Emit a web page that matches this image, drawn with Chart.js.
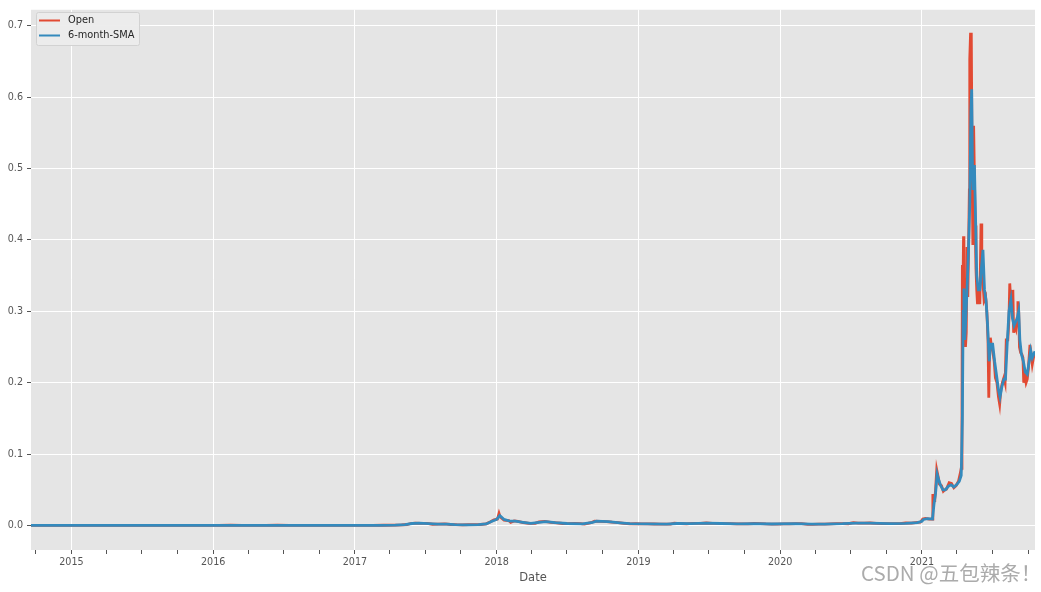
<!DOCTYPE html>
<html>
<head>
<meta charset="utf-8">
<script src="https://cdn.jsdelivr.net/npm/chart.js@4/dist/chart.umd.min.js"></script>
<style>
  body { margin: 0; background: #fff; }
  #wrap { position: relative; width: 1041px; height: 592px; }
  #mark {
    position: absolute; left: 861px; top: 559px;
    font-family: "Noto Sans CJK SC", sans-serif; font-size: 20.5px; line-height: 26px;
    color: #ababab; text-shadow: 0 0 1px #fff; white-space: nowrap;
  }
</style>
</head>
<body>
<div id="wrap">
  <canvas id="chart" width="1041" height="592"></canvas>
  <div id="mark">CSDN @五包辣条！</div>
</div>
<script>
// Open price
const openDates = [
  "2014-09-19","2014-10-15","2014-11-15","2014-12-15","2015-01-15","2015-02-15","2015-03-15","2015-04-15",
  "2015-05-15","2015-06-15","2015-07-15","2015-08-15","2015-09-15","2015-10-15","2015-11-15","2015-12-15",
  "2016-01-15","2016-02-15","2016-03-15","2016-04-15","2016-05-15","2016-06-15","2016-07-15","2016-08-15",
  "2016-09-15","2016-10-15","2016-11-15","2016-12-15","2017-01-15","2017-02-15","2017-03-15","2017-04-15",
  "2017-05-01","2017-05-15","2017-05-25","2017-06-05","2017-06-20","2017-07-05","2017-07-20","2017-08-05",
  "2017-08-20","2017-09-05","2017-09-20","2017-10-05","2017-10-20","2017-11-05","2017-11-20","2017-12-05",
  "2017-12-15","2017-12-25","2018-01-03","2018-01-07","2018-01-10","2018-01-20","2018-02-01","2018-02-06",
  "2018-02-15","2018-02-25","2018-03-10","2018-03-25","2018-04-10","2018-04-20","2018-05-05","2018-05-20",
  "2018-06-05","2018-06-20","2018-07-05","2018-07-20","2018-08-05","2018-08-15","2018-09-01","2018-09-10",
  "2018-09-25","2018-10-10","2018-10-25","2018-11-10","2018-11-25","2018-12-10","2018-12-25","2019-01-10",
  "2019-01-25","2019-02-10","2019-02-25","2019-03-10","2019-03-25","2019-04-03","2019-04-20","2019-05-05",
  "2019-05-20","2019-06-10","2019-06-25","2019-07-10","2019-07-25","2019-08-10","2019-08-25","2019-09-10",
  "2019-09-25","2019-10-10","2019-10-25","2019-11-10","2019-11-25","2019-12-10","2019-12-25","2020-01-10",
  "2020-01-25","2020-02-10","2020-02-25","2020-03-12","2020-03-25","2020-04-10","2020-04-25","2020-05-10",
  "2020-05-25","2020-06-10","2020-06-25","2020-07-08","2020-07-20","2020-08-05","2020-08-20","2020-09-05",
  "2020-09-20","2020-10-05","2020-10-20","2020-11-05","2020-11-20","2020-12-05","2020-12-20","2020-12-28",
  "2021-01-03","2021-01-10","2021-01-20","2021-01-28","2021-01-29","2021-02-01","2021-02-03","2021-02-05",
  "2021-02-08","2021-02-11","2021-02-15","2021-02-20","2021-02-25","2021-03-01","2021-03-05","2021-03-12",
  "2021-03-18","2021-03-24","2021-03-30","2021-04-05","2021-04-10","2021-04-12","2021-04-14","2021-04-15",
  "2021-04-16","2021-04-18","2021-04-19","2021-04-21","2021-04-23","2021-04-25","2021-04-27","2021-04-29",
  "2021-05-01","2021-05-03","2021-05-04","2021-05-06","2021-05-08","2021-05-10","2021-05-12","2021-05-14",
  "2021-05-16","2021-05-18","2021-05-20","2021-05-22","2021-05-24","2021-05-27","2021-05-30","2021-06-02",
  "2021-06-04","2021-06-07","2021-06-10","2021-06-14","2021-06-17","2021-06-20","2021-06-22","2021-06-24",
  "2021-06-26","2021-06-29","2021-07-02","2021-07-06","2021-07-09","2021-07-13","2021-07-17","2021-07-20",
  "2021-07-23","2021-07-27","2021-07-31","2021-08-03","2021-08-06","2021-08-10","2021-08-13","2021-08-15",
  "2021-08-17","2021-08-19","2021-08-21","2021-08-23","2021-08-25","2021-08-28","2021-08-31","2021-09-03",
  "2021-09-05","2021-09-07","2021-09-09","2021-09-12","2021-09-15","2021-09-18","2021-09-20","2021-09-23",
  "2021-09-26","2021-09-29","2021-10-02","2021-10-06","2021-10-09","2021-10-12","2021-10-15","2021-10-19"
];
const openValues = [
  0.00029,0.00024,0.00022,0.00019,0.00013,0.00014,0.00012,0.00011,
  0.00010,0.00012,0.00016,0.00013,0.00012,0.00012,0.00014,0.00017,
  0.00025,0.00035,0.00028,0.00027,0.00026,0.00034,0.00029,0.00022,
  0.00022,0.00022,0.00023,0.00021,0.00023,0.00023,0.00035,0.00062,
  0.0008,0.0014,0.0028,0.0034,0.0030,0.0029,0.0018,0.0020,
  0.0022,0.0014,0.0011,0.0010,0.0011,0.0012,0.0014,0.0024,
  0.0050,0.0080,0.0090,0.0170,0.0120,0.0075,0.0070,0.0045,
  0.0065,0.0058,0.0042,0.0030,0.0030,0.0050,0.0058,0.0045,
  0.0038,0.0028,0.0027,0.0030,0.0025,0.0020,0.0040,0.0062,
  0.0058,0.0055,0.0046,0.0040,0.0030,0.0023,0.0025,0.0024,
  0.0022,0.0021,0.0020,0.0020,0.0020,0.0032,0.0027,0.0024,
  0.0030,0.0030,0.0035,0.0031,0.0029,0.0026,0.0025,0.0024,
  0.0023,0.0024,0.0028,0.0027,0.0022,0.0020,0.0020,0.0022,
  0.0023,0.0027,0.0025,0.0016,0.0017,0.0019,0.0020,0.0024,
  0.0025,0.0026,0.0025,0.0040,0.0033,0.0033,0.0035,0.0030,
  0.0027,0.0025,0.0026,0.0027,0.0035,0.0033,0.0045,0.0046,
  0.0090,0.0100,0.0090,0.0090,0.0440,0.0350,0.0370,0.0500,
  0.0780,0.0700,0.0580,0.0560,0.0480,0.0500,0.0510,0.0600,
  0.0590,0.0530,0.0560,0.0620,0.0740,0.0800,0.1400,0.3650,
  0.3000,0.4050,0.3300,0.3000,0.2500,0.2700,0.3900,0.3200,
  0.3900,0.4700,0.6530,0.6880,0.6880,0.5000,0.3930,0.5600,
  0.4900,0.4200,0.3600,0.3300,0.3100,0.3300,0.3100,0.4230,
  0.3700,0.3400,0.3150,0.3200,0.3000,0.2600,0.1790,0.2400,
  0.2630,0.2500,0.2450,0.2300,0.2070,0.2000,0.1800,0.1700,
  0.1900,0.2000,0.2070,0.2000,0.2600,0.2600,0.2900,0.3390,
  0.3200,0.3050,0.3000,0.3300,0.2700,0.2800,0.2750,0.2900,
  0.3140,0.3000,0.2500,0.2420,0.2400,0.2350,0.2000,0.2100,
  0.2000,0.2050,0.2200,0.2530,0.2400,0.2260,0.2350,0.2420
];

// smoothed series
const smaDates = [
  "2014-09-19","2014-12-01","2015-03-01","2015-06-01","2015-09-01","2015-12-01","2016-03-01","2016-06-01",
  "2016-09-01","2016-12-01","2017-03-01","2017-04-15","2017-05-10","2017-05-28","2017-06-15","2017-07-10",
  "2017-08-01","2017-08-25","2017-09-15","2017-10-15","2017-11-15","2017-12-05","2017-12-20","2018-01-01",
  "2018-01-09","2018-01-20","2018-02-05","2018-02-18","2018-03-10","2018-03-30","2018-04-20","2018-05-08",
  "2018-06-01","2018-07-01","2018-08-10","2018-09-05","2018-09-15","2018-10-15","2018-11-15","2018-12-10",
  "2019-01-20","2019-03-15","2019-04-10","2019-05-15","2019-06-25","2019-08-01","2019-09-15","2019-10-25",
  "2019-12-10","2020-02-10","2020-03-20","2020-04-25","2020-06-10","2020-07-15","2020-08-20","2020-10-10",
  "2020-11-20","2020-12-20","2021-01-01","2021-01-05","2021-01-15","2021-01-28","2021-02-01","2021-02-05",
  "2021-02-09","2021-02-13","2021-02-18","2021-02-24","2021-03-02","2021-03-10","2021-03-17","2021-03-24",
  "2021-03-31","2021-04-07","2021-04-12","2021-04-15","2021-04-17","2021-04-19","2021-04-21","2021-04-23",
  "2021-04-27","2021-05-01","2021-05-04","2021-05-07","2021-05-09","2021-05-11","2021-05-13","2021-05-16",
  "2021-05-19","2021-05-22","2021-05-26","2021-05-30","2021-06-03","2021-06-07","2021-06-11","2021-06-15",
  "2021-06-19","2021-06-23","2021-06-27","2021-07-02","2021-07-07","2021-07-12","2021-07-17","2021-07-21",
  "2021-07-26","2021-07-31","2021-08-04","2021-08-08","2021-08-13","2021-08-18","2021-08-22","2021-08-26",
  "2021-08-30","2021-09-03","2021-09-07","2021-09-10","2021-09-14","2021-09-19","2021-09-24","2021-09-29",
  "2021-10-04","2021-10-08","2021-10-12","2021-10-16","2021-10-19"
];
const smaValues = [
  0.00029,0.00021,0.00013,0.00011,0.00013,0.00015,0.00030,0.00030,
  0.00023,0.00022,0.00028,0.00050,0.0012,0.0028,0.0032,0.0026,
  0.0020,0.0019,0.0012,0.0010,0.0013,0.0022,0.0060,0.0085,
  0.0140,0.0085,0.0060,0.0060,0.0045,0.0031,0.0045,0.0055,
  0.0040,0.0028,0.0023,0.0045,0.0060,0.0053,0.0037,0.0025,
  0.0023,0.0020,0.0028,0.0027,0.0032,0.0028,0.0024,0.0026,
  0.0021,0.0025,0.0018,0.0020,0.0025,0.0034,0.0033,0.0026,
  0.0031,0.0040,0.0060,0.0085,0.0095,0.0090,0.0300,0.0450,
  0.0720,0.0640,0.0560,0.0500,0.0500,0.0550,0.0570,0.0540,
  0.0570,0.0620,0.0700,0.1500,0.3000,0.3320,0.2600,0.2800,
  0.3300,0.3900,0.4500,0.5800,0.6110,0.5000,0.4700,0.5050,
  0.4300,0.3500,0.3300,0.3300,0.3600,0.3860,0.3300,0.3150,
  0.2800,0.2300,0.2540,0.2540,0.2300,0.2100,0.1900,0.1800,
  0.1950,0.2050,0.2050,0.2500,0.3000,0.3160,0.2900,0.2800,
  0.2850,0.2900,0.3000,0.2600,0.2400,0.2300,0.2150,0.2120,
  0.2300,0.2450,0.2350,0.2400,0.2440
];

const yTicks = [0, 0.1, 0.2, 0.3, 0.4, 0.5, 0.6, 0.7];
const yearLabels = [2015, 2016, 2017, 2018, 2019, 2020, 2021];
const xStart = "2014-09-19";
const xEnd = "2021-10-19";

// date string -> decimal year
function toYear(s) {
  const [y, m, d] = s.split("-").map(Number);
  const t = Date.UTC(y, m - 1, d), a = Date.UTC(y, 0, 1), b = Date.UTC(y + 1, 0, 1);
  return y + (t - a) / (b - a);
}

const openPts = openDates.map((d, i) => ({ x: toYear(d), y: openValues[i] }));
const smaPts = smaDates.map((d, i) => ({ x: toYear(d), y: smaValues[i] }));

// quarterly ticks, labelled at january
const xTicks = [];
for (let y = 2014; y <= 2021; y++) {
  for (const q of [0, 3, 6, 9]) {
    const v = toYear(y + "-" + String(q + 1).padStart(2, "0") + "-01");
    if (v >= toYear(xStart) && v <= toYear(xEnd)) xTicks.push({ value: v, major: q === 0 });
  }
}

const tickFont = { family: "DejaVu Sans", size: 9.6 };

const bgPlugin = {
  id: "bg",
  beforeDraw(chart) {
    const { ctx, chartArea: a } = chart;
    ctx.save();
    ctx.fillStyle = "#e5e5e5";
    ctx.fillRect(a.left, a.top, a.right - a.left, a.bottom - a.top);
    ctx.restore();
  },
  afterDraw(chart) {
    // legend box, top left inside the axes
    const ctx = chart.ctx;
    const x = 36, y = 12, w = 103, h = 33;
    ctx.save();
    ctx.fillStyle = "rgba(236,236,236,0.95)";
    ctx.strokeStyle = "#d2d2d2";
    ctx.lineWidth = 1;
    ctx.beginPath();
    ctx.roundRect(x + 0.5, y + 0.5, w, h, 2);
    ctx.fill();
    ctx.stroke();
    const items = [["Open", "#E24A33", 20.5], ["6-month-SMA", "#348ABD", 35.5]];
    ctx.font = "9.8px 'DejaVu Sans'";
    ctx.textBaseline = "middle";
    for (const [label, col, ly] of items) {
      ctx.strokeStyle = col;
      ctx.lineWidth = 2;
      ctx.beginPath();
      ctx.moveTo(39, ly);
      ctx.lineTo(60, ly);
      ctx.stroke();
      ctx.fillStyle = "#262626";
      ctx.fillText(label, 68, ly);
    }
    ctx.restore();
  }
};

new Chart(document.getElementById("chart"), {
  type: "line",
  data: {
    datasets: [
      // higher order is drawn first, so the SMA ends up on top
      { label: "Open", data: openPts, borderColor: "#E24A33", borderWidth: 2.8, pointRadius: 0, tension: 0, order: 2 },
      { label: "6-month-SMA", data: smaPts, borderColor: "#348ABD", borderWidth: 2.8, pointRadius: 0, tension: 0, order: 1 }
    ]
  },
  options: {
    responsive: false,
    animation: false,
    devicePixelRatio: 1,
    layout: { padding: { top: 7, right: 6, left: 0, bottom: 0 } },
    plugins: { legend: { display: false }, tooltip: { enabled: false } },
    scales: {
      x: {
        type: "linear",
        min: toYear(xStart),
        max: toYear(xEnd),
        afterBuildTicks: s => { s.ticks = xTicks.map(t => ({ value: t.value, major: t.major })); },
        afterFit: s => { s.height = 42; },
        border: { display: false },
        grid: {
          color: c => (c.tick && c.tick.major ? "#ffffff" : "rgba(0,0,0,0)"),
          tickColor: "#555555",
          lineWidth: 1,
          tickLength: 4
        },
        ticks: {
          autoSkip: false,
          maxRotation: 0,
          padding: 3,
          color: "#555555",
          font: tickFont,
          callback: v => {
            const y = Math.round(v);
            return Math.abs(v - y) < 0.001 && yearLabels.includes(y) ? String(y) : "";
          }
        },
        title: {
          display: true,
          text: "Date",
          color: "#555555",
          font: { family: "DejaVu Sans", size: 11.5 },
          padding: { top: 0, bottom: 7 }
        }
      },
      y: {
        min: -0.0343,
        max: 0.7223,
        afterBuildTicks: s => { s.ticks = yTicks.map(v => ({ value: v })); },
        afterFit: s => { s.width = 31; },
        border: { display: false },
        grid: { color: "#ffffff", tickColor: "#555555", lineWidth: 1, tickLength: 4 },
        ticks: {
          padding: 4,
          color: "#555555",
          font: tickFont,
          callback: v => v.toFixed(1)
        }
      }
    }
  },
  plugins: [bgPlugin]
});
</script>
</body>
</html>
